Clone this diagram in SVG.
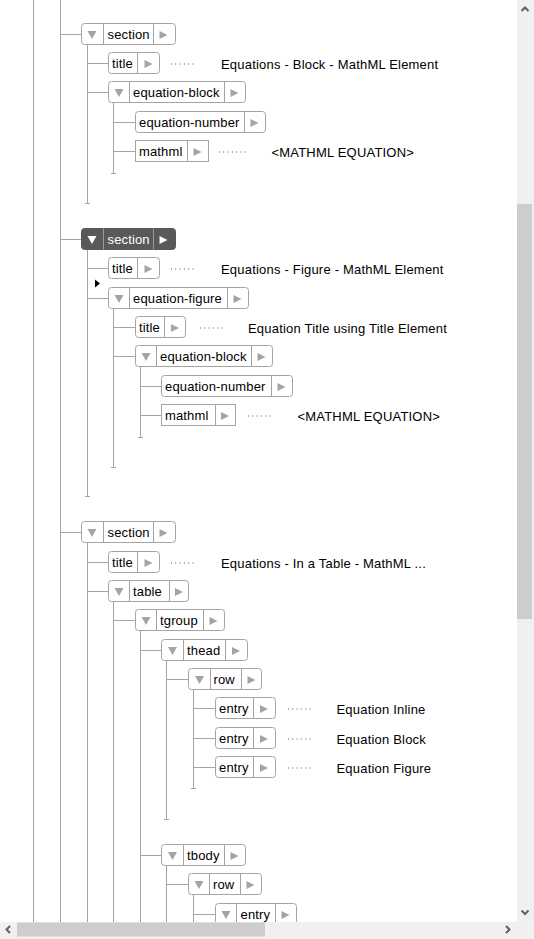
<svg xmlns="http://www.w3.org/2000/svg" width="534" height="939" viewBox="0 0 534 939">
<style>
.tree{stroke:#a4a4a4;stroke-width:1;fill:none}
.box{fill:#fff;stroke:#a4a4a4;stroke-width:1}
.div{stroke:#a4a4a4;stroke-width:1}
.tog,.arr{fill:#a4a4a4}
.lbl{font-family:"Liberation Sans",Arial,sans-serif;font-size:13px;letter-spacing:0.15px;fill:#000}
.val{font-family:"Liberation Sans",Arial,sans-serif;font-size:13px;letter-spacing:0.2px;fill:#000}
.dots{stroke:#555;stroke-width:1;stroke-dasharray:1 3.3}
.sel .box{fill:#595959;stroke:#595959}
.sel .div{stroke:#9a9a9a}
.sel .tog,.sel .arr{fill:#fff}
.sel .lbl{fill:#fff}
.sb{fill:#f0f0f0}
.thumb{fill:#cdcdcd}
.chev{fill:none;stroke:#606060;stroke-width:2}
</style>
<rect x="0" y="0" width="534" height="939" fill="#fff"/>
<g id="connectors">
<line class="tree" x1="33.5" y1="0" x2="33.5" y2="922"/>
<line class="tree" x1="60.5" y1="0" x2="60.5" y2="922"/>
<line class="tree" x1="60.5" y1="34.5" x2="81.5" y2="34.5"/>
<line class="tree" x1="87.5" y1="44.5" x2="87.5" y2="203.5"/>
<line class="tree" x1="85" y1="203.5" x2="90" y2="203.5"/>
<line class="tree" x1="87.5" y1="63.5" x2="108.5" y2="63.5"/>
<line class="tree" x1="87.5" y1="92.5" x2="108.5" y2="92.5"/>
<line class="tree" x1="113.5" y1="102.5" x2="113.5" y2="173.5"/>
<line class="tree" x1="111" y1="173.5" x2="116" y2="173.5"/>
<line class="tree" x1="113.5" y1="122.5" x2="135.5" y2="122.5"/>
<line class="tree" x1="113.5" y1="151.5" x2="135.5" y2="151.5"/>
<line class="tree" x1="60.5" y1="239.5" x2="81.5" y2="239.5"/>
<line class="tree" x1="87.5" y1="249.5" x2="87.5" y2="496.5"/>
<line class="tree" x1="85" y1="496.5" x2="90" y2="496.5"/>
<line class="tree" x1="87.5" y1="268.5" x2="108.5" y2="268.5"/>
<line class="tree" x1="87.5" y1="298.5" x2="108.5" y2="298.5"/>
<line class="tree" x1="113.5" y1="308.5" x2="113.5" y2="467.5"/>
<line class="tree" x1="111" y1="467.5" x2="116" y2="467.5"/>
<line class="tree" x1="113.5" y1="327.5" x2="135.5" y2="327.5"/>
<line class="tree" x1="113.5" y1="356.5" x2="135.5" y2="356.5"/>
<line class="tree" x1="140.5" y1="366.5" x2="140.5" y2="437.5"/>
<line class="tree" x1="138" y1="437.5" x2="143" y2="437.5"/>
<line class="tree" x1="140.5" y1="386.5" x2="161.5" y2="386.5"/>
<line class="tree" x1="140.5" y1="415.5" x2="161.5" y2="415.5"/>
<line class="tree" x1="60.5" y1="532.5" x2="81.5" y2="532.5"/>
<line class="tree" x1="87.5" y1="542.5" x2="87.5" y2="922"/>
<line class="tree" x1="87.5" y1="562.5" x2="108.5" y2="562.5"/>
<line class="tree" x1="87.5" y1="591.5" x2="108.5" y2="591.5"/>
<line class="tree" x1="113.5" y1="601.5" x2="113.5" y2="922"/>
<line class="tree" x1="113.5" y1="620.5" x2="135.5" y2="620.5"/>
<line class="tree" x1="140.5" y1="630.5" x2="140.5" y2="922"/>
<line class="tree" x1="140.5" y1="650.5" x2="161.5" y2="650.5"/>
<line class="tree" x1="140.5" y1="855.5" x2="161.5" y2="855.5"/>
<line class="tree" x1="166.5" y1="660.5" x2="166.5" y2="819.5"/>
<line class="tree" x1="164" y1="819.5" x2="169" y2="819.5"/>
<line class="tree" x1="166.5" y1="679.5" x2="188.5" y2="679.5"/>
<line class="tree" x1="193.5" y1="689.5" x2="193.5" y2="788.5"/>
<line class="tree" x1="191" y1="788.5" x2="196" y2="788.5"/>
<line class="tree" x1="193.5" y1="708.5" x2="215.5" y2="708.5"/>
<line class="tree" x1="193.5" y1="738.5" x2="215.5" y2="738.5"/>
<line class="tree" x1="193.5" y1="767.5" x2="215.5" y2="767.5"/>
<line class="tree" x1="166.5" y1="865.5" x2="166.5" y2="922"/>
<line class="tree" x1="166.5" y1="884.5" x2="188.5" y2="884.5"/>
<line class="tree" x1="193.5" y1="894.5" x2="193.5" y2="922"/>
<line class="tree" x1="193.5" y1="914.5" x2="215.5" y2="914.5"/>
<line class="dots" x1="171" y1="64" x2="194" y2="64"/>
<line class="dots" x1="219" y1="152" x2="246" y2="152"/>
<line class="dots" x1="171" y1="269" x2="194" y2="269"/>
<line class="dots" x1="200" y1="328" x2="223" y2="328"/>
<line class="dots" x1="248" y1="416" x2="271" y2="416"/>
<line class="dots" x1="171" y1="563" x2="194" y2="563"/>
<line class="dots" x1="288" y1="709" x2="311" y2="709"/>
<line class="dots" x1="288" y1="739" x2="311" y2="739"/>
<line class="dots" x1="288" y1="768" x2="311" y2="768"/>
</g>

<g id="n-section-1"><rect class="box" x="81.5" y="23.5" width="94" height="21" rx="3"/><line class="div" x1="103.5" y1="23.5" x2="103.5" y2="44.5"/><line class="div" x1="153.5" y1="23.5" x2="153.5" y2="44.5"/><polygon class="tog" points="87.5,31 96.5,31 92,39"/><text class="lbl" x="107.5" y="39">section</text><polygon class="arr" points="159.5,31 167.5,35 159.5,39"/></g>
<g id="n-title-1"><rect class="box" x="108.5" y="52.5" width="51" height="21" rx="3"/><line class="div" x1="137.5" y1="52.5" x2="137.5" y2="73.5"/><text class="lbl" x="112" y="68">title</text><polygon class="arr" points="144.5,60 152.5,64 144.5,68"/><text class="val" x="221" y="68.5">Equations - Block - MathML Element</text></g>
<g id="n-equation-block-1"><rect class="box" x="108.5" y="81.5" width="137" height="21" rx="3"/><line class="div" x1="129.5" y1="81.5" x2="129.5" y2="102.5"/><line class="div" x1="224.5" y1="81.5" x2="224.5" y2="102.5"/><polygon class="tog" points="114.5,89 123.5,89 119,97"/><text class="lbl" x="133" y="97">equation-block</text><polygon class="arr" points="230.5,89 238.5,93 230.5,97"/></g>
<g id="n-equation-number-1"><rect class="box" x="135.5" y="111.5" width="130" height="21" rx="3"/><line class="div" x1="244.5" y1="111.5" x2="244.5" y2="132.5"/><text class="lbl" x="139" y="127">equation-number</text><polygon class="arr" points="250.5,119 258.5,123 250.5,127"/></g>
<g id="n-mathml-1"><rect class="box" x="135.5" y="140.5" width="73" height="21"/><line class="div" x1="187.5" y1="140.5" x2="187.5" y2="161.5"/><text class="lbl" x="139" y="156">mathml</text><polygon class="arr" points="193.5,148 201.5,152 193.5,156"/><text class="val" x="271.5" y="156.5">&lt;MATHML EQUATION&gt;</text></g>

<g id="n-section-2" class="sel"><rect class="box" x="81.5" y="228.5" width="94" height="21" rx="3"/><line class="div" x1="103.5" y1="228.5" x2="103.5" y2="249.5"/><line class="div" x1="153.5" y1="228.5" x2="153.5" y2="249.5"/><polygon class="tog" points="87.5,236 96.5,236 92,244"/><text class="lbl" x="107.5" y="244">section</text><polygon class="arr" points="159.5,236 167.5,240 159.5,244"/></g>
<g id="n-title-2"><rect class="box" x="108.5" y="257.5" width="51" height="21" rx="3"/><line class="div" x1="137.5" y1="257.5" x2="137.5" y2="278.5"/><text class="lbl" x="112" y="273">title</text><polygon class="arr" points="144.5,265 152.5,269 144.5,273"/><text class="val" x="221" y="273.5">Equations - Figure - MathML Element</text></g>
<polygon id="caret" points="95,279.5 100,283.5 95,287.5" fill="#000"/>
<g id="n-equation-figure"><rect class="box" x="108.5" y="287.5" width="140" height="21" rx="3"/><line class="div" x1="129.5" y1="287.5" x2="129.5" y2="308.5"/><line class="div" x1="227.5" y1="287.5" x2="227.5" y2="308.5"/><polygon class="tog" points="114.5,295 123.5,295 119,303"/><text class="lbl" x="133" y="303">equation-figure</text><polygon class="arr" points="233.5,295 241.5,299 233.5,303"/></g>
<g id="n-title-3"><rect class="box" x="135.5" y="316.5" width="50" height="21" rx="3"/><line class="div" x1="164.5" y1="316.5" x2="164.5" y2="337.5"/><text class="lbl" x="139" y="332">title</text><polygon class="arr" points="171,324 179,328 171,332"/><text class="val" x="248" y="332.5">Equation Title using Title Element</text></g>
<g id="n-equation-block-2"><rect class="box" x="135.5" y="345.5" width="137" height="21" rx="3"/><line class="div" x1="156.5" y1="345.5" x2="156.5" y2="366.5"/><line class="div" x1="251.5" y1="345.5" x2="251.5" y2="366.5"/><polygon class="tog" points="141.5,353 150.5,353 146,361"/><text class="lbl" x="160" y="361">equation-block</text><polygon class="arr" points="257.5,353 265.5,357 257.5,361"/></g>
<g id="n-equation-number-2"><rect class="box" x="161.5" y="375.5" width="131" height="21" rx="3"/><line class="div" x1="271.5" y1="375.5" x2="271.5" y2="396.5"/><text class="lbl" x="165" y="391">equation-number</text><polygon class="arr" points="277.5,383 285.5,387 277.5,391"/></g>
<g id="n-mathml-2"><rect class="box" x="161.5" y="404.5" width="74" height="21"/><line class="div" x1="215.5" y1="404.5" x2="215.5" y2="425.5"/><text class="lbl" x="165" y="420">mathml</text><polygon class="arr" points="221,412 229,416 221,420"/><text class="val" x="297.5" y="420.5">&lt;MATHML EQUATION&gt;</text></g>

<g id="n-section-3"><rect class="box" x="81.5" y="521.5" width="94" height="21" rx="3"/><line class="div" x1="103.5" y1="521.5" x2="103.5" y2="542.5"/><line class="div" x1="153.5" y1="521.5" x2="153.5" y2="542.5"/><polygon class="tog" points="87.5,529 96.5,529 92,537"/><text class="lbl" x="107.5" y="537">section</text><polygon class="arr" points="159.5,529 167.5,533 159.5,537"/></g>
<g id="n-title-4"><rect class="box" x="108.5" y="551.5" width="51" height="21" rx="3"/><line class="div" x1="137.5" y1="551.5" x2="137.5" y2="572.5"/><text class="lbl" x="112" y="567">title</text><polygon class="arr" points="144.5,559 152.5,563 144.5,567"/><text class="val" x="221" y="567.5">Equations - In a Table - MathML ...</text></g>
<g id="n-table"><rect class="box" x="108.5" y="580.5" width="80" height="21" rx="3"/><line class="div" x1="129.5" y1="580.5" x2="129.5" y2="601.5"/><line class="div" x1="169.5" y1="580.5" x2="169.5" y2="601.5"/><polygon class="tog" points="114.5,588 123.5,588 119,596"/><text class="lbl" x="133" y="596">table</text><polygon class="arr" points="175,588 183,592 175,596"/></g>
<g id="n-tgroup"><rect class="box" x="135.5" y="609.5" width="89" height="21" rx="3"/><line class="div" x1="156.5" y1="609.5" x2="156.5" y2="630.5"/><line class="div" x1="203.5" y1="609.5" x2="203.5" y2="630.5"/><polygon class="tog" points="141.5,617 150.5,617 146,625"/><text class="lbl" x="160" y="625">tgroup</text><polygon class="arr" points="209.5,617 217.5,621 209.5,625"/></g>
<g id="n-thead"><rect class="box" x="161.5" y="639.5" width="86" height="21" rx="3"/><line class="div" x1="183.5" y1="639.5" x2="183.5" y2="660.5"/><line class="div" x1="225.5" y1="639.5" x2="225.5" y2="660.5"/><polygon class="tog" points="168,647 177,647 172.5,655"/><text class="lbl" x="187" y="655">thead</text><polygon class="arr" points="232,647 240,651 232,655"/></g>
<g id="n-row-1"><rect class="box" x="188.5" y="668.5" width="73" height="21" rx="3"/><line class="div" x1="210.5" y1="668.5" x2="210.5" y2="689.5"/><line class="div" x1="241.5" y1="668.5" x2="241.5" y2="689.5"/><polygon class="tog" points="195,676 204,676 199.5,684"/><text class="lbl" x="213.5" y="684">row</text><polygon class="arr" points="247.5,676 255.5,680 247.5,684"/></g>
<g id="n-entry-1"><rect class="box" x="215.5" y="697.5" width="60" height="21" rx="3"/><line class="div" x1="253.5" y1="697.5" x2="253.5" y2="718.5"/><text class="lbl" x="219" y="713">entry</text><polygon class="arr" points="260,705 268,709 260,713"/><text class="val" x="336.5" y="713.5">Equation Inline</text></g>
<g id="n-entry-2"><rect class="box" x="215.5" y="727.5" width="60" height="21" rx="3"/><line class="div" x1="253.5" y1="727.5" x2="253.5" y2="748.5"/><text class="lbl" x="219" y="743">entry</text><polygon class="arr" points="260,735 268,739 260,743"/><text class="val" x="336.5" y="743.5">Equation Block</text></g>
<g id="n-entry-3"><rect class="box" x="215.5" y="756.5" width="60" height="21" rx="3"/><line class="div" x1="253.5" y1="756.5" x2="253.5" y2="777.5"/><text class="lbl" x="219" y="772">entry</text><polygon class="arr" points="260,764 268,768 260,772"/><text class="val" x="336.5" y="772.5">Equation Figure</text></g>
<g id="n-tbody"><rect class="box" x="161.5" y="844.5" width="84" height="21" rx="3"/><line class="div" x1="183.5" y1="844.5" x2="183.5" y2="865.5"/><line class="div" x1="224.5" y1="844.5" x2="224.5" y2="865.5"/><polygon class="tog" points="168,852 177,852 172.5,860"/><text class="lbl" x="187" y="860">tbody</text><polygon class="arr" points="230.5,852 238.5,856 230.5,860"/></g>
<g id="n-row-2"><rect class="box" x="188.5" y="873.5" width="73" height="21" rx="3"/><line class="div" x1="209.5" y1="873.5" x2="209.5" y2="894.5"/><line class="div" x1="240.5" y1="873.5" x2="240.5" y2="894.5"/><polygon class="tog" points="194.5,881 203.5,881 199,889"/><text class="lbl" x="213" y="889">row</text><polygon class="arr" points="246.5,881 254.5,885 246.5,889"/></g>
<g id="n-entry-4"><rect class="box" x="215.5" y="903.5" width="81" height="21" rx="3"/><line class="div" x1="236.5" y1="903.5" x2="236.5" y2="924.5"/><line class="div" x1="275.5" y1="903.5" x2="275.5" y2="924.5"/><polygon class="tog" points="221.5,911 230.5,911 226,919"/><text class="lbl" x="240.5" y="919">entry</text><polygon class="arr" points="281.5,911 289.5,915 281.5,919"/></g>

<g id="scrollbars">
<rect class="sb" x="517" y="0" width="17" height="939"/>
<rect class="sb" x="0" y="922" width="534" height="17"/>
<rect class="thumb" x="517" y="204" width="15" height="415"/>
<rect class="thumb" x="17" y="922.5" width="248" height="14"/>
<polyline class="chev" points="521.5,11 525,7.5 528.5,11"/>
<polyline class="chev" points="521.5,910.5 525,914 528.5,910.5"/>
<polyline class="chev" points="10,926 6.5,929.5 10,933"/>
<polyline class="chev" points="506,926 509.5,929.5 506,933"/>
</g>
</svg>
